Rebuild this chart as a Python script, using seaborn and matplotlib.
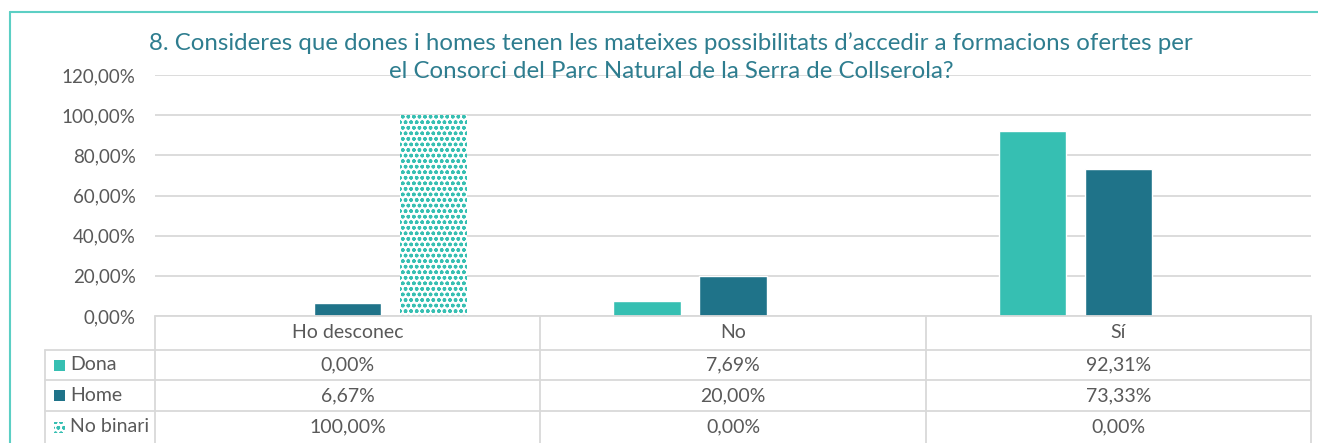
import numpy as np
import pandas as pd
import matplotlib.pyplot as plt
import matplotlib.transforms as mtrans
from matplotlib.lines import Line2D
from matplotlib.patches import Rectangle
import seaborn as sns

categories = ["Ho desconec", "No", "Sí"]
series = ["Dona", "Home", "No binari"]
dona = [0.00, 7.69, 92.31]
home = [6.67, 20.00, 73.33]
no_binari = [100.00, 0.00, 0.00]
yticks = [0, 20, 40, 60, 80, 100, 120]

title = ("8. Consideres que dones i homes tenen les mateixes possibilitats d\u2019accedir a formacions ofertes per\n"
         "el Consorci del Parc Natural de la Serra de Collserola?")

colors = {"Dona": "#36BFB2", "Home": "#1F7389", "No binari": "#36BFB2"}
text_col = "#595959"
grid_col = "#D9D9D9"
frame_col = "#5CCFC4"
pattern = "ooo"

W, H = 1318, 443


def fmt(v):
    return f"{v:.2f}".replace(".", ",") + "%"


df = pd.DataFrame({
    "categoria": categories * 3,
    "valor": dona + home + no_binari,
    "genere": [s for s in series for _ in categories],
})

sns.set_style("white")
plt.rcParams["font.family"] = ["Lato", "DejaVu Sans"]
plt.rcParams["hatch.linewidth"] = 1.0

fig = plt.figure(figsize=(W / 100, H / 100), dpi=100)
# plot area in pixels: x 155..1311, y 75..316
ax = fig.add_axes([155 / W, 1 - 316 / H, (1311 - 155) / W, (316 - 75) / H])

sns.barplot(data=df, x="categoria", y="valor", hue="genere", palette=colors,
            width=0.67, gap=0.22, ax=ax, legend=False, saturation=1)

for bar in ax.containers[2]:
    bar.set_facecolor("white")
    bar.set_edgecolor("#36BFB2")
    bar.set_hatch(pattern)
    bar.set_linewidth(0)

ax.set_ylim(0, 120)
ax.set_xlim(-0.5, 2.5)
ax.set_yticks(yticks)
ax.set_yticklabels([fmt(v) for v in yticks], color=text_col, fontsize=13.5)
ax.tick_params(axis="y", length=0, pad=14)
ax.set_xticks([])
ax.set_xlabel("")
ax.set_ylabel("")
ax.grid(axis="y", color=grid_col, linewidth=1.3)
ax.set_axisbelow(True)
for s in ax.spines.values():
    s.set_visible(False)

fig.text(671 / W, 1 - 57 / H, title, ha="center", va="center", fontsize=17.3,
         color="#2E7D8F", linespacing=1.4)

# data table under the axis
px = lambda y: 1 - y / H
trans = mtrans.blended_transform_factory(ax.transData, fig.transFigure)
row_lines = [316, 350, 380, 411]
row_mid = [333, 365, 395.5, 427]
for i, yl in enumerate(row_lines):
    x0 = 155 / W if i == 0 else 45 / W
    fig.add_artist(Line2D([x0, 1311 / W], [px(yl), px(yl)], color=grid_col, lw=1.3))
fig.add_artist(Line2D([45 / W, 45 / W], [px(350), 0], color=grid_col, lw=1.3))
for xb in [-0.5, 0.5, 1.5, 2.5]:
    fig.add_artist(Line2D([xb, xb], [px(316), 0], color=grid_col, lw=1.3, transform=trans))

for i, cat in enumerate(categories):
    fig.text(i, px(row_mid[0]), cat, transform=trans, ha="center", va="center",
             fontsize=14, color=text_col)
for r, (name, vals) in enumerate(zip(series, [dona, home, no_binari])):
    y = px(row_mid[r + 1])
    for i, v in enumerate(vals):
        fig.text(i, y, fmt(v), transform=trans, ha="center", va="center",
                 fontsize=14, color=text_col)
    fig.text(70 / W, y, name, ha="left", va="center", fontsize=14, color=text_col)
    key = Rectangle((54 / W, y - 5.5 / H), 11 / W, 11 / H, transform=fig.transFigure,
                    facecolor=colors[name] if name != "No binari" else "white",
                    edgecolor=colors[name], lw=0)
    if name == "No binari":
        key.set_hatch(pattern)
    fig.add_artist(key)

# chart frame
fig.add_artist(Line2D([10 / W, 1], [px(12), px(12)], color=frame_col, lw=1.5))
fig.add_artist(Line2D([10 / W, 10 / W], [px(12), 0], color=frame_col, lw=1.5))

fig.savefig("out.png", dpi=100)
